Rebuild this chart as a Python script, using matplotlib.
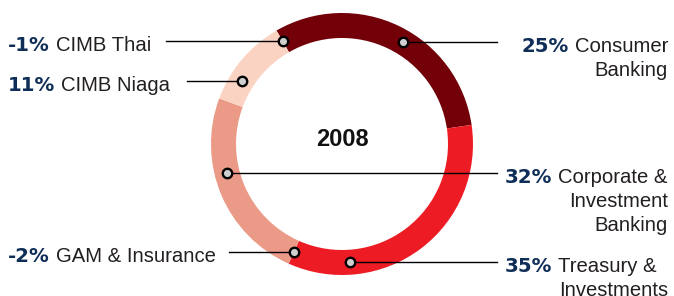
import matplotlib.pyplot as plt
import numpy as np

plt.rcParams['font.family'] = ['Liberation Sans', 'DejaVu Sans']

W, H = 674, 296

# ring segments (share of the circle)
ring_shares = [31, 34, 24, 11]
ring_colors = ['#730008', '#ed1c24', '#ea9a87', '#fbd3c2']

# labelled contributions
pcts = [-1, 11, 25, 32, -2, 35]
names = ['CIMB Thai', 'CIMB Niaga', 'Consumer\nBanking',
         'Corporate &\nInvestment\nBanking', 'GAM & Insurance',
         'Treasury &  \nInvestments']
year = '2008'

# where each marker sits on the ring (compass degrees) and which side the label goes
dot_angle = [330, 302, 31, 256, 204, 176]
side = ['left', 'left', 'right', 'right', 'left', 'right']
line_end = [166, 187, 497, 497, 229, 497]

cx, cy = 342, 152
R, ring_w = 131, 25
r_mid = R - ring_w / 2

fig = plt.figure(figsize=(6.74, 2.96), dpi=100)
ax = fig.add_axes([0, 0, 1, 1])
ax.pie(ring_shares, colors=ring_colors, startangle=120, counterclock=False,
       radius=R, center=(cx, cy), wedgeprops=dict(width=ring_w, linewidth=0))
ax.set_xlim(0, W)
ax.set_ylim(0, H)
ax.set_aspect('equal')
ax.axis('off')

ax.text(cx, cy + 4, year, ha='center', va='center', fontsize=17,
        fontweight='bold', color='#111111')

navy = '#0f2e57'
grey = '#231f20'
fs_name = 14.6
fs_pct = 14.2
pct_font = ['DejaVu Sans']
lh = 24
gap = 6

fig.canvas.draw()
rend = fig.canvas.get_renderer()


def width_px(t):
    return t.get_window_extent(rend).width


for p, nm, a, sd, le in zip(pcts, names, dot_angle, side, line_end):
    th = np.deg2rad(90 - a)
    dx = cx + r_mid * np.cos(th)
    dy = cy + r_mid * np.sin(th)
    ty = dy - 2.5
    lines = nm.split('\n')
    if sd == 'left':
        ax.plot([le, dx], [dy, dy], color='black', lw=1.0, zorder=3)
        pt = ax.text(8, ty, f'{p}%', ha='left', va='center_baseline',
                     fontsize=fs_pct, fontweight='bold', color=navy,
                     family=pct_font)
        w = width_px(pt)
        ax.text(8 + w + gap, ty, lines[0], ha='left', va='center_baseline',
                fontsize=fs_name, color=grey)
    else:
        ax.plot([dx, le], [dy, dy], color='black', lw=1.0, zorder=3)
        first = None
        for i, ln in enumerate(lines):
            t = ax.text(668, ty - i * lh, ln, ha='right', va='center_baseline',
                        fontsize=fs_name, color=grey)
            if i == 0:
                first = t
        w = width_px(first)
        ax.text(668 - w - gap, ty, f'{p}%', ha='right', va='center_baseline',
                fontsize=fs_pct, fontweight='bold', color=navy,
                family=pct_font)
    ax.plot(dx, dy, 'o', ms=6.8, mfc='#cfcfcf', mec='black', mew=1.7, zorder=4)

fig.savefig('out.png', dpi=100)
